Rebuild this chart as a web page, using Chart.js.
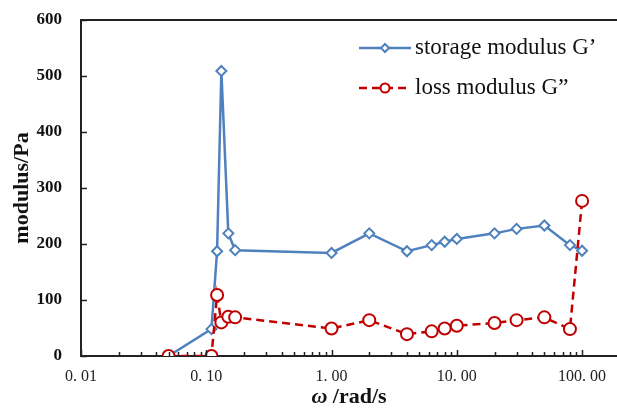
<!DOCTYPE html>
<html>
<head>
<meta charset="utf-8">
<script src="https://cdn.jsdelivr.net/npm/chart.js@4.4.0/dist/chart.umd.min.js"></script>
<style>
    html, body { margin: 0; padding: 0; background: #fff; }
    #wrap { width: 617px; height: 410px; }
</style>
</head>
<body>
<div id="wrap"><canvas id="chart_modulus" width="617" height="410"></canvas></div>
<script>
// angular frequency (rad/s) shared by both series
const omega = [0.05, 0.11, 0.122, 0.132, 0.15, 0.17, 1, 2, 4, 6.3, 8, 10, 20, 30, 50, 80, 100]
// storage modulus G' (Pa)
const storage = [0, 48, 187, 509, 219, 189, 184, 219, 187, 198, 204, 209, 219, 227, 233, 198, 188]
// loss modulus G'' (Pa)
const loss = [0, 0, 109, 60, 70, 69, 49, 64, 39, 44, 49, 54, 59, 64, 69, 48, 277]

const xDecades = [0.01, 0.1, 1, 10, 100]
const xTickLabels = ['0. 01', '0. 10', '1. 00', '10. 00', '100. 00']
const yTicks = [0, 100, 200, 300, 400, 500, 600]

const seriesNames = ['storage modulus G\u2019', 'loss modulus G\u201D']
const blue = '#4F81BD'
const red = '#C00000'
const serif = '"Liberation Serif", "Times New Roman", serif'

// major + minor ticks for the log axis
let xAllTicks = []
xDecades.forEach((d, i) => {
    if (i === xDecades.length - 1) {
        xAllTicks.push(d)
        return
    }
    for (let k = 1; k <= 9; k++) {
        xAllTicks.push(+(d * k).toPrecision(3))
    }
})

function isMajor(v) {
    return xDecades.some(d => Math.abs(d - v) < d * 1e-6)
}

// inside tick marks, top frame line, x title and legend
const decorations = {
    id: 'decorations',
    afterDraw(chart) {
        const ctx = chart.ctx
        const area = chart.chartArea
        const xs = chart.scales.x
        const ys = chart.scales.y
        ctx.save()
        ctx.strokeStyle = '#222'
        ctx.lineWidth = 1.5
        ctx.beginPath()
        xAllTicks.forEach(v => {
            let px = Math.round(xs.getPixelForValue(v)) + 0.5
            let len = isMajor(v) ? 6 : 4
            ctx.moveTo(px, area.bottom)
            ctx.lineTo(px, area.bottom - len)
        })
        yTicks.forEach(v => {
            let py = Math.round(ys.getPixelForValue(v)) + 0.5
            ctx.moveTo(area.left, py)
            ctx.lineTo(area.left + 6, py)
        })
        ctx.stroke()

        // top frame line
        ctx.lineWidth = 2
        ctx.beginPath()
        ctx.moveTo(area.left, area.top)
        ctx.lineTo(chart.width, area.top)
        ctx.stroke()

        // x axis title: italic omega followed by the unit
        ctx.fillStyle = '#111'
        ctx.textBaseline = 'middle'
        let omegaFont = 'italic bold 22px ' + serif
        let unitFont = 'bold 22px ' + serif
        ctx.font = omegaFont
        let w1 = ctx.measureText('\u03C9').width
        ctx.font = unitFont
        let unit = ' /rad/s'
        let w2 = ctx.measureText(unit).width
        let cx = (area.left + area.right) / 2
        let x0 = cx - (w1 + w2) / 2
        let ty = 397
        ctx.font = omegaFont
        ctx.fillText('\u03C9', x0, ty)
        ctx.font = unitFont
        ctx.fillText(unit, x0 + w1, ty)

        // legend
        const rows = [
            { y: 48, color: blue, dash: [], marker: 'diamond' },
            { y: 88, color: red, dash: [8, 5], marker: 'circle' }
        ]
        rows.forEach((r, i) => {
            ctx.strokeStyle = r.color
            ctx.lineWidth = 2.5
            ctx.setLineDash(r.dash)
            ctx.beginPath()
            ctx.moveTo(359, r.y)
            ctx.lineTo(411, r.y)
            ctx.stroke()
            ctx.setLineDash([])
            ctx.fillStyle = '#fff'
            ctx.lineWidth = 2
            ctx.beginPath()
            if (r.marker === 'diamond') {
                ctx.moveTo(385, r.y - 4)
                ctx.lineTo(389, r.y)
                ctx.lineTo(385, r.y + 4)
                ctx.lineTo(381, r.y)
                ctx.closePath()
            } else {
                ctx.arc(385, r.y, 4.5, 0, Math.PI * 2)
            }
            ctx.fill()
            ctx.stroke()
            ctx.fillStyle = '#111'
            ctx.font = '23px ' + serif
            ctx.textBaseline = 'middle'
            ctx.fillText(seriesNames[i], 415, r.y)
        })
        ctx.restore()
    }
}

const ctx = document.getElementById('chart_modulus').getContext('2d')

const chartData = {
    datasets: [{
        label: seriesNames[1],
        data: omega.map((w, i) => ({ x: w, y: loss[i] })),
        borderColor: red,
        borderWidth: 2.5,
        borderDash: [8, 5],
        pointStyle: 'circle',
        pointRadius: 6,
        pointBorderWidth: 2,
        pointBackgroundColor: '#fff',
        pointBorderColor: red,
        tension: 0,
        order: 1
    }, {
        label: seriesNames[0],
        data: omega.map((w, i) => ({ x: w, y: storage[i] })),
        borderColor: blue,
        borderWidth: 2.5,
        pointStyle: 'rectRot',
        pointRadius: 5,
        pointBorderWidth: 2,
        pointBackgroundColor: '#fff',
        pointBorderColor: blue,
        tension: 0,
        order: 2
    }]
}

const chartOptions = {
    responsive: false,
    animation: false,
    layout: {
        autoPadding: false,
        padding: { top: 20, right: 0, left: 0, bottom: 0 }
    },
    plugins: {
        legend: { display: false },
        tooltip: { enabled: false }
    },
    scales: {
        x: {
            type: 'logarithmic',
            min: 0.01,
            max: 190,
            afterBuildTicks: scale => {
                scale.ticks = xAllTicks.map(v => ({ value: v }))
            },
            afterFit: scale => {
                scale.height = 54
                scale.paddingLeft = 0
                scale.paddingRight = 0
            },
            grid: { display: false, drawTicks: false },
            border: { display: true, color: '#222', width: 2 },
            ticks: {
                autoSkip: false,
                maxRotation: 0,
                padding: 11,
                color: '#222',
                font: { family: serif, size: 16 },
                callback: (v) => {
                    let i = xDecades.findIndex(d => Math.abs(d - v) < d * 1e-6)
                    return i >= 0 ? xTickLabels[i] : ''
                }
            }
        },
        y: {
            min: 0,
            max: 600,
            afterBuildTicks: scale => {
                scale.ticks = yTicks.map(v => ({ value: v }))
            },
            afterFit: scale => {
                scale.width = 81
                scale.paddingTop = 0
                scale.paddingBottom = 0
            },
            grid: { display: false, drawTicks: false },
            border: { display: true, color: '#222', width: 2 },
            ticks: {
                padding: 19,
                color: '#111',
                font: { family: serif, size: 17, weight: 'bold' }
            },
            title: {
                display: true,
                text: 'modulus/Pa',
                color: '#111',
                padding: { top: 9, bottom: 0 },
                font: { family: serif, size: 22, weight: 'bold' }
            }
        }
    }
}

new Chart(ctx, {
    type: 'line',
    data: chartData,
    options: chartOptions,
    plugins: [decorations]
})
</script>
</body>
</html>
